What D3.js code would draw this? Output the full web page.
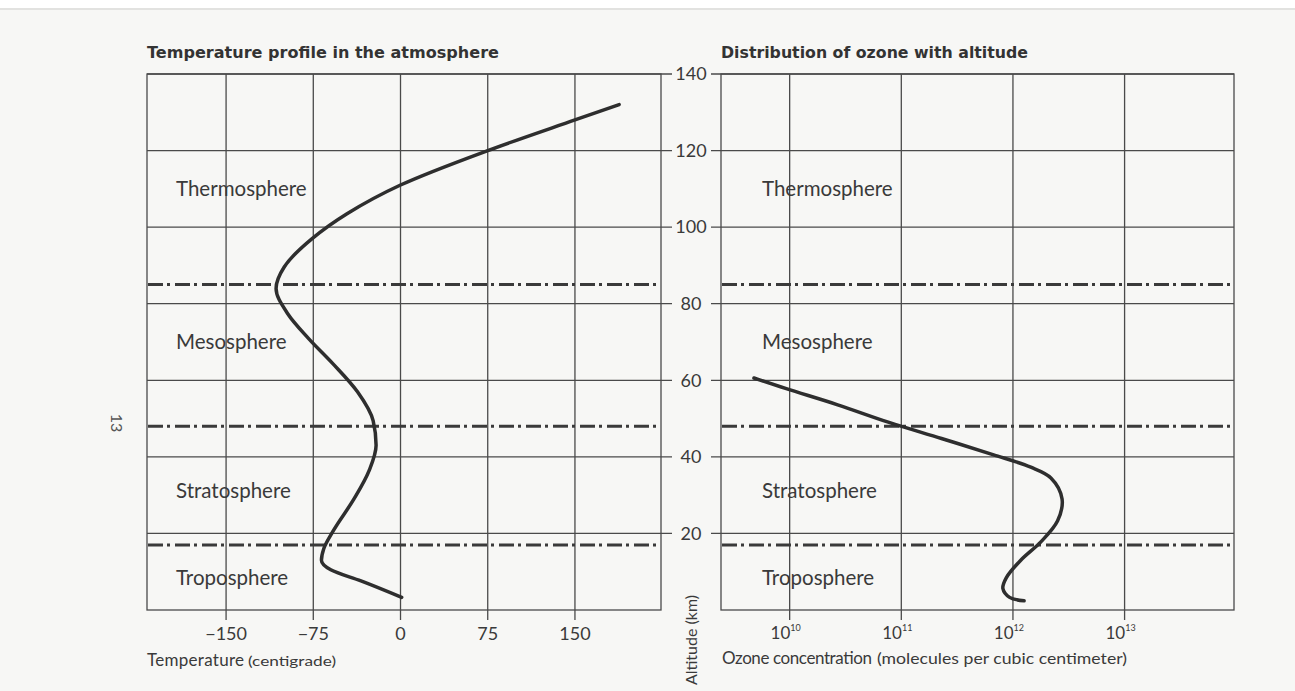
<!DOCTYPE html>
<html>
<head>
<meta charset="utf-8">
<title>Temperature and ozone profiles</title>
<script src="https://cdn.jsdelivr.net/npm/d3@7"></script>
<style>
    html, body {
        margin: 0;
        padding: 0;
        background: #ffffff;
    }
    svg {
        display: block;
        font-family: 'Lato', 'Open Sans', sans-serif;
    }
    .grid line, .grid rect {
        stroke: #4a4a4a;
        stroke-width: 1.3px;
        fill: none;
    }
    .boundary {
        stroke: #3a3a3a;
        stroke-width: 3px;
        stroke-dasharray: 15, 4, 3, 5;
    }
    .curve {
        fill: none;
        stroke: #2e2e2e;
        stroke-width: 3.5px;
        stroke-linecap: round;
    }
    .layer {
        font-size: 20.5px;
        fill: #3a3a3a;
    }
    .tick {
        font-size: 18px;
        fill: #3a3a3a;
    }
    .title {
        font-family: 'DejaVu Sans', sans-serif;
        font-size: 15px;
        font-weight: bold;
        fill: #333;
    }
</style>
</head>
<body>
<div id="chart"></div>
<script>
    // altitude grid (km)
    var altTicks = [20, 40, 60, 80, 100, 120, 140];
    // boundaries between layers (km) - drawn dash-dot
    var boundaries = [17, 48, 85];
    var layerNames = ["Thermosphere", "Mesosphere", "Stratosphere", "Troposphere"];
    var layerLabelAlt = [110, 70, 31, 8.4];

    var tempTicks = [-150, -75, 0, 75, 150];
    var ozoneTicks = [10, 11, 12, 13]; // exponents

    // temperature profile: [temperature C, altitude km]
    var tempProfile = [
        [1, 3.3], [-34, 7.6], [-60, 10.5], [-68, 13], [-66, 16], [-58, 20.6],
        [-40, 29], [-27, 36.4], [-21, 43], [-23.5, 49.4], [-37, 57], [-58, 64.3],
        [-79, 70.9], [-97, 77.4], [-107, 84], [-100, 89.6], [-76, 97],
        [-46, 103.5], [0, 111], [75, 120], [150, 128], [188, 132]
    ];

    // ozone profile: [log10 concentration, altitude km]
    var ozoneProfile = [
        [9.68, 60.6], [9.97, 57.8], [10.43, 53.6], [10.89, 49], [11.36, 44.8],
        [11.82, 40.6], [12.16, 37.3], [12.34, 34.5], [12.44, 29], [12.40, 23.3],
        [12.25, 17.8], [12.07, 13], [11.94, 8.4], [11.91, 5.6], [11.97, 3.3], [12.10, 2.4]
    ];

    var W = 1295, H = 691;
    var svg = d3.select("#chart").append("svg")
        .attr("width", W).attr("height", H);

    svg.append("rect").attr("width", W).attr("height", H).attr("fill", "#f7f7f5");
    svg.append("rect").attr("width", W).attr("height", 8).attr("fill", "#ffffff");
    svg.append("rect").attr("y", 8).attr("width", W).attr("height", 2).attr("fill", "#e2e2e0");

    var y = d3.scaleLinear().domain([0, 140]).range([610, 74]);
    var xT = d3.scaleLinear().domain([-218, 224]).range([147, 661]);
    var xO = d3.scaleLog().domain([Math.pow(10, 9.385), Math.pow(10, 13.98)]).range([721, 1234]);

    function panel(x, ticks, tickVal, side) {
        var g = svg.append("g").attr("class", "grid");
        var x0 = x.range()[0], x1 = x.range()[1];
        g.append("rect").attr("x", x0).attr("y", y(140))
            .attr("width", x1 - x0).attr("height", y(0) - y(140));
        // horizontal altitude lines, extended toward centre axis
        g.selectAll("line.h").data(altTicks).enter().append("line")
            .attr("x1", side == "left" ? x0 : x0 - 10)
            .attr("x2", side == "left" ? x1 + 11 : x1)
            .attr("y1", function (d) { return y(d); })
            .attr("y2", function (d) { return y(d); });
        // vertical lines with ticks below
        g.selectAll("line.v").data(ticks).enter().append("line")
            .attr("x1", function (d) { return x(tickVal(d)); })
            .attr("x2", function (d) { return x(tickVal(d)); })
            .attr("y1", y(140)).attr("y2", y(0) + 10);

        svg.append("g").selectAll("line").data(boundaries).enter().append("line")
            .attr("class", "boundary")
            .attr("x1", x0 + 1).attr("x2", x1)
            .attr("y1", function (d) { return y(d); })
            .attr("y2", function (d) { return y(d); });

        var lx = side == "left" ? x0 + 29 : x0 + 41;
        svg.append("g").selectAll("text").data(layerNames).enter().append("text")
            .attr("class", "layer")
            .attr("x", lx)
            .attr("y", function (d, i) { return y(layerLabelAlt[i]); })
            .attr("dy", "0.35em")
            .text(function (d) { return d; });
    }

    panel(xT, tempTicks, function (d) { return d; }, "left");
    panel(xO, ozoneTicks, function (d) { return Math.pow(10, d); }, "right");

    // curves
    var tempLine = d3.line()
        .x(function (d) { return xT(d[0]); })
        .y(function (d) { return y(d[1]); })
        .curve(d3.curveMonotoneY);
    svg.append("path").attr("class", "curve").attr("d", tempLine(tempProfile));

    var ozoneLine = d3.line()
        .x(function (d) { return xO(Math.pow(10, d[0])); })
        .y(function (d) { return y(d[1]); })
        .curve(d3.curveCatmullRom);
    svg.append("path").attr("class", "curve").attr("d", ozoneLine(ozoneProfile));

    // titles
    svg.append("text").attr("class", "title").attr("x", 147).attr("y", 58)
        .attr("textLength", 352).attr("lengthAdjust", "spacingAndGlyphs")
        .text("Temperature profile in the atmosphere");
    svg.append("text").attr("class", "title").attr("x", 721).attr("y", 58)
        .attr("textLength", 307).attr("lengthAdjust", "spacingAndGlyphs")
        .text("Distribution of ozone with altitude");

    // centre altitude axis labels
    svg.append("g").selectAll("text").data(altTicks).enter().append("text")
        .attr("class", "tick")
        .attr("x", 691).attr("y", function (d) { return y(d); })
        .attr("dy", "0.35em").attr("text-anchor", "middle")
        .text(function (d) { return d; });

    svg.append("text").attr("class", "tick")
        .attr("transform", "translate(697,640) rotate(-90)")
        .attr("text-anchor", "middle").style("font-size", "16px")
        .text("Altitude (km)");

    // temperature tick labels
    svg.append("g").selectAll("text").data(tempTicks).enter().append("text")
        .attr("class", "tick")
        .attr("x", function (d) { return xT(d); }).attr("y", 640)
        .attr("text-anchor", "middle")
        .text(function (d) { return d < 0 ? "\u2212" + Math.abs(d) : d; });

    svg.append("text").attr("class", "tick").attr("x", 147).attr("y", 666)
        .style("font-size", "17px").attr("textLength", 97)
        .text("Temperature");
    svg.append("text").attr("class", "tick").attr("x", 248).attr("y", 666)
        .style("font-size", "14px").attr("textLength", 88).attr("lengthAdjust", "spacingAndGlyphs")
        .text("(centigrade)");

    // ozone tick labels with superscripts
    var ot = svg.append("g").selectAll("text").data(ozoneTicks).enter().append("text")
        .attr("class", "tick")
        .attr("x", function (d) { return xO(Math.pow(10, d)) - 4; }).attr("y", 639)
        .attr("text-anchor", "middle").style("font-size", "17px");
    ot.append("tspan").text("10");
    ot.append("tspan").attr("dy", -8).style("font-size", "9px").text(function (d) { return d; });

    svg.append("text").attr("class", "tick").attr("x", 722).attr("y", 664)
        .style("font-size", "17px").attr("textLength", 150)
        .text("Ozone concentration");
    svg.append("text").attr("class", "tick").attr("x", 877).attr("y", 664)
        .style("font-size", "14.5px").attr("textLength", 250).attr("lengthAdjust", "spacingAndGlyphs")
        .text("(molecules per cubic centimeter)");

    // page number
    svg.append("text").attr("transform", "translate(111,423) rotate(90)")
        .attr("text-anchor", "middle").style("font-size", "16px").attr("fill", "#555")
        .text("13");
</script>
</body>
</html>
